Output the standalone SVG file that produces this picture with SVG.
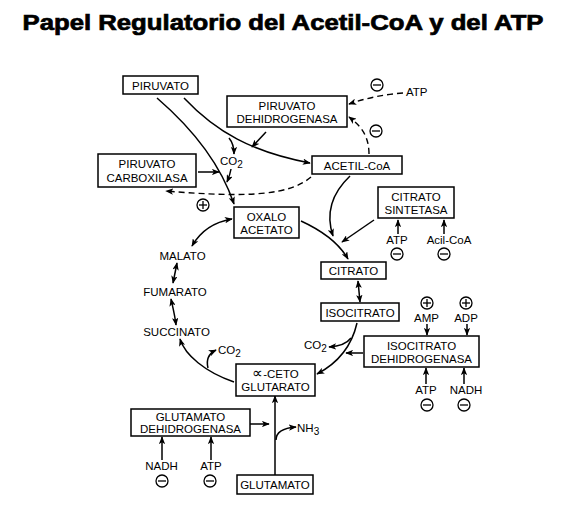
<svg xmlns="http://www.w3.org/2000/svg" xmlns:xlink="http://www.w3.org/1999/xlink" width="568" height="510" viewBox="0 0 568 510">
<style>
.box{fill:#fff;stroke:#000;stroke-width:1.5}
.t{font-family:"Liberation Sans",Arial,sans-serif;font-size:11.5px;fill:#000;text-anchor:middle}
.l{font-family:"Liberation Sans",Arial,sans-serif;font-size:11.5px;fill:#000}
.c{fill:none;stroke:#000;stroke-width:1.5}
.d{fill:none;stroke:#000;stroke-width:1.4;stroke-dasharray:6 4}
.sym{fill:none;stroke:#000;stroke-width:1.3}
</style>
<defs>
<marker id="ah" viewBox="0 0 10 8" refX="9" refY="4" markerWidth="8" markerHeight="6.4" markerUnits="userSpaceOnUse" orient="auto-start-reverse">
<path d="M0,0 L10,4 L0,8 L2.5,4 z" fill="#000"/>
</marker>
<g id="minus" class="sym"><circle r="6"/><line x1="-4" y1="0" x2="4" y2="0"/></g>
<g id="plus" class="sym"><circle r="6"/><line x1="-4" y1="0" x2="4" y2="0"/><line x1="0" y1="-4" x2="0" y2="4"/></g>
</defs>
<rect width="568" height="510" fill="#fff"/>
<text x="283" y="30" font-family="'Liberation Sans',Arial,sans-serif" font-size="22" font-weight="bold" stroke="#000" stroke-width="0.7" text-anchor="middle" textLength="521" lengthAdjust="spacingAndGlyphs">Papel Regulatorio del Acetil-CoA y del ATP</text>

<g id="connectors">
<path class="c" d="M157,98 Q215,148 234,204" marker-end="url(#ah)"/>
<path class="c" d="M184,98 C216,132 252,152 310,163" marker-end="url(#ah)"/>
<path class="c" d="M266,132 L252,147" marker-end="url(#ah)"/>
<path class="c" d="M229,138 Q234,144 234,154" marker-end="url(#ah)"/>
<path class="c" d="M231,169 Q230,175 227,182" marker-end="url(#ah)"/>
<path class="c" d="M198,172 L219,172" marker-end="url(#ah)"/>
<path class="d" d="M311,177 C290,195 250,198 166,191" marker-end="url(#ah)"/>
<path class="d" d="M403,93 Q375,95 349,104" marker-end="url(#ah)"/>
<path class="d" d="M369,154 C369,136 361,126 349,117" marker-end="url(#ah)"/>
<path class="c" d="M350,176 C330,195 326,215 333,236" marker-end="url(#ah)"/>
<path class="c" d="M301,221 C325,232 340,245 348,259" marker-end="url(#ah)"/>
<path class="c" d="M374,220 L342,242" marker-end="url(#ah)"/>
<path class="c" d="M398,234 L398,220" marker-end="url(#ah)"/>
<path class="c" d="M444,234 L444,220" marker-end="url(#ah)"/>
<path class="c" d="M358,281 L360,302" marker-start="url(#ah)" marker-end="url(#ah)"/>
<path class="c" d="M357,323 C352,345 340,362 317,374" marker-end="url(#ah)"/>
<path class="c" d="M351,338 Q345,346 329,347" marker-end="url(#ah)"/>
<path class="c" d="M363,353 L346,353" marker-end="url(#ah)"/>
<path class="c" d="M427,324 L427,335" marker-end="url(#ah)"/>
<path class="c" d="M467,324 L467,335" marker-end="url(#ah)"/>
<path class="c" d="M426,384 L426,368" marker-end="url(#ah)"/>
<path class="c" d="M464,384 L464,368" marker-end="url(#ah)"/>
<path class="c" d="M234,382 C205,372 185,355 180,339" marker-end="url(#ah)"/>
<path class="c" d="M208,368 C206,360 208,354 216,350" marker-end="url(#ah)"/>
<path class="c" d="M171,299 C173,308 175,316 176,325" marker-start="url(#ah)" marker-end="url(#ah)"/>
<path class="c" d="M173,283 L177,263" marker-start="url(#ah)" marker-end="url(#ah)"/>
<path class="c" d="M192,246 C200,232 214,222 232,219" marker-start="url(#ah)" marker-end="url(#ah)"/>
<path class="c" d="M250,424 L269,424" marker-end="url(#ah)"/>
<path class="c" d="M275,475 L275,396" marker-end="url(#ah)"/>
<path class="c" d="M276,440 C276,432 283,428 296,427" marker-end="url(#ah)"/>
<path class="c" d="M162,460 L162,437" marker-end="url(#ah)"/>
<path class="c" d="M211,460 L211,437" marker-end="url(#ah)"/>
</g>

<g id="piruvato"><rect class="box" x="123" y="76" width="75" height="18"/><text class="t" x="160.5" y="89.5">PIRUVATO</text></g>
<g id="pdh"><rect class="box" x="227" y="96" width="120" height="31"/><text class="t" x="287" y="110">PIRUVATO</text><text class="t" x="287" y="123">DEHIDROGENASA</text></g>
<g id="pc"><rect class="box" x="98" y="154" width="98" height="33"/><text class="t" x="147" y="168">PIRUVATO</text><text class="t" x="147" y="182">CARBOXILASA</text></g>
<g id="acetilcoa"><rect class="box" x="312" y="156" width="90" height="18"/><text class="t" x="357" y="169.5">ACETIL-CoA</text></g>
<g id="cs"><rect class="box" x="378" y="187" width="76" height="31"/><text class="t" x="416" y="200.5">CITRATO</text><text class="t" x="416" y="213.5">SINTETASA</text></g>
<g id="oxalo"><rect class="box" x="234" y="207" width="65" height="31"/><text class="t" x="266.5" y="220.5">OXALO</text><text class="t" x="266.5" y="233.5">ACETATO</text></g>
<g id="citrato"><rect class="box" x="321" y="262" width="65" height="17"/><text class="t" x="353.5" y="275">CITRATO</text></g>
<g id="isocitrato"><rect class="box" x="321" y="303" width="78" height="18"/><text class="t" x="360" y="316.5">ISOCITRATO</text></g>
<g id="icdh"><rect class="box" x="364" y="336" width="115" height="31"/><text class="t" x="421.5" y="349.5">ISOCITRATO</text><text class="t" x="421.5" y="362.5">DEHIDROGENASA</text></g>
<g id="akg"><rect class="box" x="236" y="364" width="79" height="32"/><text class="t" x="275.5" y="378"><tspan font-size="15">∝</tspan>-CETO</text><text class="t" x="275.5" y="391">GLUTARATO</text></g>
<g id="gdh"><rect class="box" x="131" y="409" width="119" height="27"/><text class="t" x="190.5" y="421">GLUTAMATO</text><text class="t" x="190.5" y="433">DEHIDROGENASA</text></g>
<g id="glutamato"><rect class="box" x="237" y="475" width="76" height="19"/><text class="t" x="275" y="489">GLUTAMATO</text></g>

<g id="labels">
<text class="t" x="182.5" y="260">MALATO</text>
<text class="t" x="175" y="296">FUMARATO</text>
<text class="t" x="176.5" y="336">SUCCINATO</text>
<text class="l" x="220" y="165">CO<tspan dy="3" font-size="10">2</tspan></text>
<text class="l" x="218" y="354">CO<tspan dy="3" font-size="10">2</tspan></text>
<text class="l" x="304" y="349">CO<tspan dy="3" font-size="10">2</tspan></text>
<text class="l" x="297" y="432">NH<tspan dy="3" font-size="10">3</tspan></text>
<text class="l" x="406" y="96">ATP</text>
<text class="t" x="397" y="244">ATP</text>
<text class="t" x="449" y="244">Acil-CoA</text>
<text class="t" x="426.5" y="322">AMP</text>
<text class="t" x="466" y="322">ADP</text>
<text class="t" x="426" y="394">ATP</text>
<text class="t" x="466" y="394">NADH</text>
<text class="t" x="161.5" y="470">NADH</text>
<text class="t" x="211" y="470">ATP</text>
</g>

<g id="effectors">
<use xlink:href="#minus" x="377" y="85"/>
<use xlink:href="#minus" x="376" y="131"/>
<use xlink:href="#plus" x="203" y="205"/>
<use xlink:href="#minus" x="397" y="254"/>
<use xlink:href="#minus" x="444" y="254"/>
<use xlink:href="#plus" x="427" y="303"/>
<use xlink:href="#plus" x="466" y="303"/>
<use xlink:href="#minus" x="427" y="405"/>
<use xlink:href="#minus" x="464" y="405"/>
<use xlink:href="#minus" x="162" y="481"/>
<use xlink:href="#minus" x="210" y="481"/>
</g>
</svg>
